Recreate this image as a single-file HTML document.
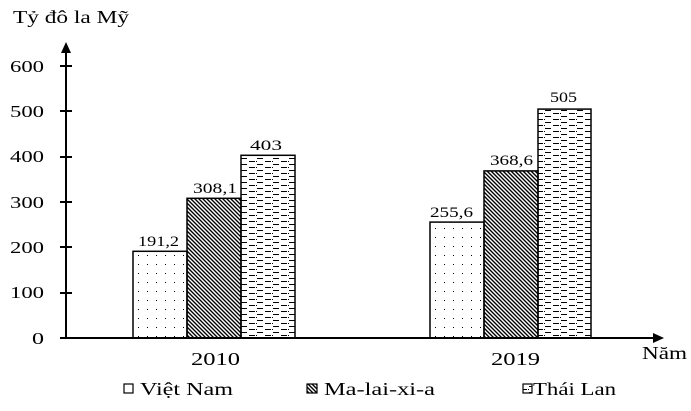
<!DOCTYPE html>
<html><head><style>body{margin:0;background:#fff}svg{display:block}text{font-family:"Liberation Serif",serif;fill:#000}</style></head>
<body>
<svg width="691" height="411" viewBox="0 0 691 411">
<defs>
<pattern id="dots" width="9" height="9" patternUnits="userSpaceOnUse"><rect x="3" y="3" width="1" height="1" fill="#000"/></pattern>
<pattern id="diag" width="4" height="4" patternUnits="userSpaceOnUse"><path d="M-1,-1 L5,5 M-1,3 L1,5 M3,-1 L5,1" stroke="#000" stroke-width="1.4"/></pattern>
<pattern id="dash" width="16" height="6" patternUnits="userSpaceOnUse"><path d="M1,2.5 H9 M9,5.5 H16 M0,5.5 H1" stroke="#000" stroke-width="1" stroke-dasharray="6 2"/></pattern>
</defs>
<text x="13" y="23" font-size="18" textLength="116" lengthAdjust="spacingAndGlyphs">Tỷ đô la Mỹ</text>
<g font-size="17">
<text x="10" y="72" textLength="34" lengthAdjust="spacingAndGlyphs">600</text>
<text x="10" y="117" textLength="34" lengthAdjust="spacingAndGlyphs">500</text>
<text x="10" y="162" textLength="34" lengthAdjust="spacingAndGlyphs">400</text>
<text x="10" y="208" textLength="34" lengthAdjust="spacingAndGlyphs">300</text>
<text x="10" y="253" textLength="34" lengthAdjust="spacingAndGlyphs">200</text>
<text x="10" y="298" textLength="34" lengthAdjust="spacingAndGlyphs">100</text>
<text x="32" y="344" textLength="12" lengthAdjust="spacingAndGlyphs">0</text>
</g>
<g stroke="#000" stroke-width="2">
<line x1="66" y1="50" x2="66" y2="338"/>
<line x1="60" y1="66" x2="72" y2="66"/><line x1="60" y1="111" x2="72" y2="111"/><line x1="60" y1="157" x2="72" y2="157"/>
<line x1="60" y1="202" x2="72" y2="202"/><line x1="60" y1="247" x2="72" y2="247"/><line x1="60" y1="293" x2="72" y2="293"/>
<line x1="60" y1="338" x2="656" y2="338"/>
</g>
<polygon points="66,42 61,53 71,53" fill="#000"/>
<polygon points="664,338 653,333 653,343" fill="#000"/>
<g stroke="#000" stroke-width="1.5">
<rect x="133" y="251.3" width="54" height="86.7" fill="url(#dots)"/>
<rect x="187" y="198.3" width="54" height="139.7" fill="url(#diag)"/>
<rect x="241" y="155.3" width="54" height="182.7" fill="url(#dash)"/>
<rect x="430" y="222.1" width="54" height="115.9" fill="url(#dots)"/>
<rect x="484" y="170.9" width="54" height="167.1" fill="url(#diag)"/>
<rect x="538" y="109.1" width="53" height="228.9" fill="url(#dash)"/>
</g>
<g font-size="15">
<text x="138" y="246" textLength="41" lengthAdjust="spacingAndGlyphs">191,2</text>
<text x="193" y="193" textLength="44" lengthAdjust="spacingAndGlyphs">308,1</text>
<text x="250" y="150" textLength="32" lengthAdjust="spacingAndGlyphs">403</text>
<text x="430" y="217" textLength="43" lengthAdjust="spacingAndGlyphs">255,6</text>
<text x="490" y="165" textLength="43" lengthAdjust="spacingAndGlyphs">368,6</text>
<text x="550" y="102" textLength="27" lengthAdjust="spacingAndGlyphs">505</text>
</g>
<g font-size="18">
<text x="191" y="365" textLength="49" lengthAdjust="spacingAndGlyphs">2010</text>
<text x="491" y="365" textLength="49" lengthAdjust="spacingAndGlyphs">2019</text>
<text x="642" y="359" textLength="45" lengthAdjust="spacingAndGlyphs">Năm</text>
</g>
<g stroke="#000" stroke-width="1.2">
<rect x="124" y="384" width="9" height="9" fill="#fff"/>
<rect x="307" y="384" width="10" height="9" fill="url(#diag)"/>
<rect x="523" y="384" width="9" height="9" fill="url(#dash)"/>
</g>
<g font-size="18">
<text x="140" y="395" textLength="93" lengthAdjust="spacingAndGlyphs">Việt Nam</text>
<text x="324" y="395" textLength="111" lengthAdjust="spacingAndGlyphs">Ma-lai-xi-a</text>
<text x="533" y="395" textLength="83" lengthAdjust="spacingAndGlyphs">Thái Lan</text>
</g>
</svg>
</body></html>
